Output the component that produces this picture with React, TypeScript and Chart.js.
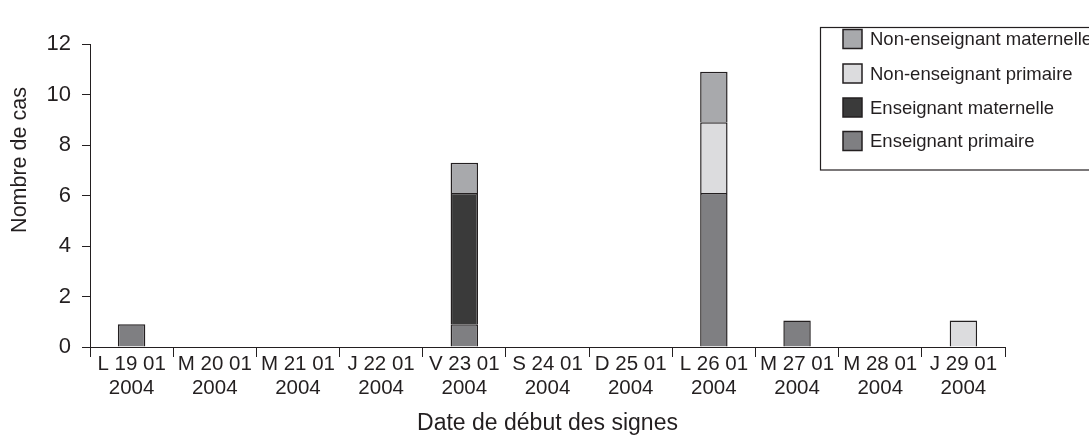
import { useEffect, useRef } from "react";
import { Chart, registerables } from "chart.js";

Chart.register(...registerables);

const FONT = "'Liberation Sans', Arial, Helvetica, sans-serif";
const INK = "#231f20";

const categories: string[][] = [
  ["L 19 01", "2004"],
  ["M 20 01", "2004"],
  ["M 21 01", "2004"],
  ["J 22 01", "2004"],
  ["V 23 01", "2004"],
  ["S 24 01", "2004"],
  ["D 25 01", "2004"],
  ["L 26 01", "2004"],
  ["M 27 01", "2004"],
  ["M 28 01", "2004"],
  ["J 29 01", "2004"],
];

const enseignantPrimaire = [0.9, null, null, null, 0.9, null, null, 6.1, 1.05, null, null];
const enseignantMaternelle = [null, null, null, null, 5.2, null, null, null, null, null, null];
const nonEnseignantPrimaire = [null, null, null, null, null, null, null, 2.8, null, null, 1.05];
const nonEnseignantMaternelle = [null, null, null, null, 1.2, null, null, 2.0, null, null, null];

const seriesLabels = [
  "Enseignant primaire",
  "Enseignant maternelle",
  "Non-enseignant primaire",
  "Non-enseignant maternelle",
];
const seriesColors = ["#7f7f82", "#3a3a3a", "#dcdcde", "#a8a9ac"];

const yMin = 0;
const yMax = 12;
const yStep = 2;

const xTitle = "Date de début des signes";
const yTitle = "Nombre de cas";

const customPlugin = {
  id: "customDecor",
  afterDraw(chart: any) {
    const ctx = chart.ctx as CanvasRenderingContext2D;
    // Y axis title
    ctx.save();
    ctx.translate(20, 160);
    ctx.rotate(-Math.PI / 2);
    ctx.font = `21.5px ${FONT}`;
    ctx.fillStyle = INK;
    ctx.textAlign = "center";
    ctx.textBaseline = "middle";
    ctx.fillText(yTitle, 0, 0);
    ctx.restore();

    // Legend box
    ctx.save();
    ctx.fillStyle = "#ffffff";
    ctx.fillRect(820.5, 27.5, 300, 142.5);
    ctx.strokeStyle = INK;
    ctx.lineWidth = 1.2;
    ctx.strokeRect(820.5, 27.5, 300, 142.5);
    const ds = chart.data.datasets;
    const rowsY = [39, 73.5, 107.5, 141];
    ctx.font = `18.5px ${FONT}`;
    ctx.textBaseline = "middle";
    ctx.textAlign = "left";
    for (let i = 0; i < ds.length; i++) {
      const d = ds[ds.length - 1 - i];
      const cy = rowsY[i];
      ctx.fillStyle = d.backgroundColor;
      ctx.fillRect(843, cy - 9.5, 19, 19);
      ctx.strokeStyle = INK;
      ctx.lineWidth = 1.5;
      ctx.strokeRect(843, cy - 9.5, 19, 19);
      ctx.fillStyle = INK;
      ctx.fillText(d.label, 870, cy + 1);
    }
    ctx.restore();
  },
};

export default function App() {
  const ref = useRef<HTMLCanvasElement | null>(null);

  useEffect(() => {
    document.body.style.margin = "0";
    const canvas = ref.current;
    if (!canvas) return;
    const series = [enseignantPrimaire, enseignantMaternelle, nonEnseignantPrimaire, nonEnseignantMaternelle];
    const chart = new Chart(canvas, {
      type: "bar",
      data: {
        labels: categories,
        datasets: series.map((vals, i) => ({
          label: seriesLabels[i],
          data: vals,
          backgroundColor: seriesColors[i],
          borderColor: INK,
          borderWidth: 1.5,
          borderSkipped: "start",
          barPercentage: 0.33,
          categoryPercentage: 1,
        })),
      },
      options: {
        responsive: false,
        animation: false,
        maintainAspectRatio: false,
        layout: { padding: { top: 44, right: 84, bottom: 0, left: 0 } },
        plugins: {
          legend: { display: false },
          tooltip: { enabled: false },
          title: { display: false },
        },
        scales: {
          x: {
            stacked: true,
            offset: true,
            afterFit: (s: any) => {
              s.height = 90;
            },
            grid: {
              offset: true,
              drawOnChartArea: false,
              drawTicks: true,
              tickLength: 10,
              color: INK,
              lineWidth: 1,
            },
            border: { display: true, color: INK, width: 1 },
            ticks: {
              color: INK,
              font: { family: FONT, size: 20.5, lineHeight: 1.15 },
              padding: -4,
              maxRotation: 0,
              autoSkip: false,
            },
            title: {
              display: true,
              text: xTitle,
              color: INK,
              font: { family: FONT, size: 23 },
              padding: { top: 0, bottom: 0 },
            },
          },
          y: {
            stacked: true,
            min: yMin,
            max: yMax,
            afterFit: (s: any) => {
              s.width = 90;
            },
            grid: {
              drawOnChartArea: false,
              drawTicks: true,
              tickLength: 8,
              color: INK,
              lineWidth: 1,
            },
            border: { display: true, color: INK, width: 1 },
            ticks: {
              stepSize: yStep,
              color: INK,
              font: { family: FONT, size: 22 },
              padding: 11,
            },
          },
        },
      },
      plugins: [customPlugin],
    });
    return () => chart.destroy();
  }, []);

  return (
    <div style={{ width: 1089, height: 437 }}>
      <canvas ref={ref} width={1089} height={437} style={{ display: "block" }} />
    </div>
  );
}
